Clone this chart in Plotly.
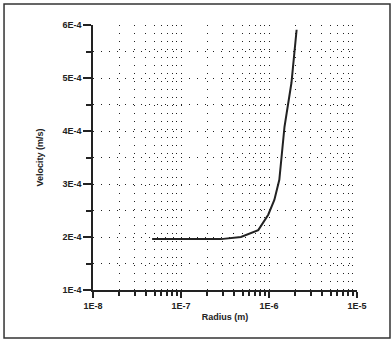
import plotly.graph_objects as go

# Data
radius = [4.7e-8, 1.0e-7, 2.0e-7, 2.84e-7, 4.8e-7, 7.55e-7, 9.8e-7, 1.15e-6,
          1.31e-6, 1.50e-6, 1.80e-6, 1.95e-6, 2.06e-6]
velocity = [1.96e-4, 1.96e-4, 1.96e-4, 1.96e-4, 2.0e-4, 2.13e-4, 2.42e-4, 2.70e-4,
            3.08e-4, 4.08e-4, 4.91e-4, 5.53e-4, 5.91e-4]

x_tickvals = [1e-8, 1e-7, 1e-6, 1e-5]
x_ticktext = ["1E-8", "1E-7", "1E-6", "1E-5"]
y_tickvals = [1e-4, 2e-4, 3e-4, 4e-4, 5e-4, 6e-4]
y_ticktext = ["1E-4", "2E-4", "3E-4", "4E-4", "5E-4", "6E-4"]

fig = go.Figure()
fig.add_trace(go.Scatter(x=radius, y=velocity, mode="lines",
                         line=dict(color="#222222", width=2), showlegend=False))

tickfont = dict(family="Liberation Sans, Arial", size=9, color="#222222", weight="bold")
grid_dash = "1px,7px"

fig.update_xaxes(
    type="log", range=[-8, -5],
    tickvals=x_tickvals, ticktext=x_ticktext,
    showline=True, linecolor="#222222", linewidth=1.5,
    ticks="outside", ticklen=6, tickcolor="#222222", tickwidth=1.5,
    tickfont=tickfont,
    showgrid=True, gridcolor="#222222", gridwidth=1, griddash=grid_dash,
    minor=dict(dtick="D1", ticks="outside", ticklen=4, tickcolor="#222222",
               showgrid=True, gridcolor="#222222", gridwidth=1, griddash=grid_dash),
    zeroline=False,
    title=dict(text="Radius (m)", font=dict(family="Liberation Sans, Arial", size=9,
                                             color="#222222", weight="bold"), standoff=4),
)
fig.update_yaxes(
    range=[1e-4, 6e-4],
    tickvals=y_tickvals, ticktext=y_ticktext,
    showline=True, linecolor="#222222", linewidth=1.5,
    ticks="outside", ticklen=8, tickcolor="#222222", tickwidth=1.5,
    tickfont=tickfont,
    showgrid=True, gridcolor="#222222", gridwidth=1, griddash=grid_dash,
    minor=dict(dtick=0.5e-4, ticks="outside", ticklen=5, tickcolor="#222222",
               showgrid=True, gridcolor="#222222", gridwidth=1, griddash=grid_dash),
    zeroline=False,
    title=dict(text="Velocity (m/s)", font=dict(family="Liberation Sans, Arial", size=9,
                                                 color="#222222", weight="bold"), standoff=17),
)

fig.add_shape(type="rect", xref="paper", yref="paper",
              x0=-0.337, x1=1.125, y0=-0.181, y1=1.079,
              line=dict(color="#333333", width=1.5), fillcolor="rgba(0,0,0,0)")

fig.update_layout(
    width=392, height=341,
    margin=dict(l=93, r=35, t=25, b=51),
    paper_bgcolor="white", plot_bgcolor="white",
    showlegend=False,
)

fig.write_html("out.html", config={"displayModeBar": False},
               post_script="document.body.style.margin='0px';")
